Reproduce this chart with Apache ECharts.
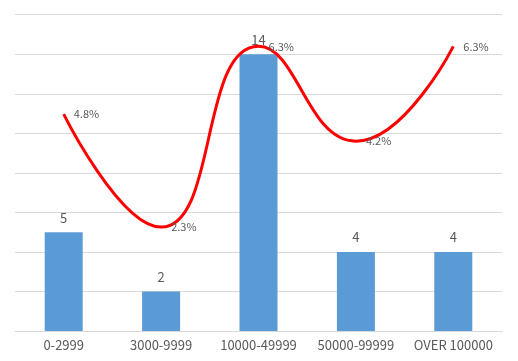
<!DOCTYPE html>
<html><head><meta charset="utf-8">
<script src="https://cdn.jsdelivr.net/npm/echarts@6/dist/echarts.min.js"></script>
<style>html,body{margin:0;padding:0;background:#fff}#c{width:518px;height:361px}</style>
</head><body><div id="c"></div>
<script>
const categories = ['0-2999', '3000-9999', '10000-49999', '50000-99999', 'OVER 100000'];
const counts = [5, 2, 14, 4, 4];
const shares = [4.8, 2.3, 6.3, 4.2, 6.3];

const font = '"Noto Sans CJK SC", "Liberation Sans", sans-serif';
const chart = echarts.init(document.getElementById('c'));
chart.setOption({
  animation: false,
  backgroundColor: '#fff',
  grid: { left: 15, right: 16, top: 14.7, bottom: 30, containLabel: false },
  xAxis: {
    type: 'category', data: categories,
    axisLine: { lineStyle: { color: '#d9d9d9', width: 1 } },
    axisTick: { show: false },
    axisLabel: { color: '#595959', fontSize: 13, fontFamily: font, margin: 8, interval: 0 }
  },
  yAxis: [
    { type: 'value', min: 0, max: 16, interval: 2, axisLabel: { show: false },
      axisLine: { show: false }, axisTick: { show: false },
      splitLine: { lineStyle: { color: '#d9d9d9', width: 1 } } },
    { type: 'value', min: 0, max: 7, interval: 1, show: false, splitLine: { show: false } }
  ],
  series: [
    { type: 'bar', data: counts, barWidth: 38, yAxisIndex: 0,
      itemStyle: { color: '#5B9BD5' },
      label: { show: true, position: 'top', distance: 8, color: '#595959', fontSize: 13, fontFamily: font } },
    { type: 'line', data: shares, yAxisIndex: 1, smooth: 0.5, smoothConstraint: false,
      symbol: 'circle', symbolSize: 0.1, itemStyle: { color: '#FF0000' },
      lineStyle: { color: '#FF0000', width: 3 },
      label: { show: true, position: 'right', distance: 10, color: '#595959', fontSize: 11, fontFamily: font,
        formatter: p => p.value.toFixed(1) + '%' } }
  ]
});
</script></body></html>
